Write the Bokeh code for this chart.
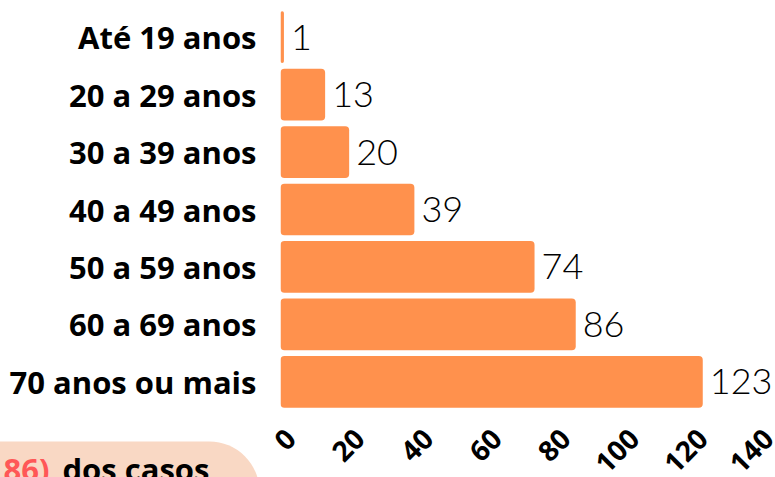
from bokeh.plotting import figure
from bokeh.models import Range1d, FactorRange, FixedTicker, Label, LinearAxis
from bokeh.core.properties import value
from bokeh.embed import file_html
from bokeh.resources import INLINE
import math

categories = ["Até 19 anos", "20 a 29 anos", "30 a 39 anos", "40 a 49 anos",
              "50 a 59 anos", "60 a 69 anos", "70 anos ou mais"]
values = [1, 13, 20, 39, 74, 86, 123]
x_ticks = [0, 20, 40, 60, 80, 100, 120, 140]
note_number = "86)"
note_text = "dos casos"

BAR = "#FF914D"
W = 775
LEFT, RIGHT, TOP = 280, 0, 8
FRAME_H = 402                         # bar area height, as in the reference
BOTTOM = 260                          # room for the axis and the note panels (the note is cut by the window like the reference)
H = TOP + FRAME_H + BOTTOM
PX = 3.433                            # pixels per unit
X_MAX = (W - LEFT - RIGHT) / PX
PY = FRAME_H / len(categories)        # pixels per category band
LABEL_SHIFT = 10 / PX                 # tick labels sit ~10px right of their ticks
FRAME_BOTTOM = TOP + FRAME_H

p = figure(width=W, height=H, output_backend="svg", toolbar_location=None,
           y_range=FactorRange(factors=categories[::-1]),
           x_range=Range1d(0, X_MAX), x_axis_location=None,
           min_border_left=LEFT, min_border_right=RIGHT, min_border_top=TOP,
           min_border_bottom=BOTTOM)
p.outline_line_color = None
p.background_fill_color = "white"
p.border_fill_color = "white"
p.grid.grid_line_color = None

p.hbar(y=categories, right=values, left=0, height=0.9, color=BAR,
       line_color=None, border_radius=4)

p.text(x=values, y=categories, text=[str(v) for v in values],
       x_offset=7, text_baseline="middle", text_align="left",
       text_font=value("Lato Light"), text_font_size="36px", text_color="black")

p.extra_x_ranges = {"labels": Range1d(-LABEL_SHIFT, X_MAX - LABEL_SHIFT)}
xa = LinearAxis(x_range_name="labels")
xa.ticker = FixedTicker(ticks=x_ticks)
xa.axis_line_color = None
xa.major_tick_line_color = None
xa.minor_tick_line_color = None
xa.major_label_orientation = math.pi / 4
xa.major_label_text_font = "Open Sans"
xa.major_label_text_font_style = "bold"
xa.major_label_text_font_size = "28px"
xa.major_label_text_color = "black"
xa.major_label_standoff = 17
p.add_layout(xa, "below")

ya = p.yaxis[0]
ya.axis_line_color = None
ya.major_tick_line_color = None
ya.minor_tick_line_color = None
ya.major_label_text_font = "Open Sans"
ya.major_label_text_font_style = "bold"
ya.major_label_text_font_size = "31px"
ya.major_label_text_color = "black"
ya.major_label_standoff = 18

# note box at the bottom-left (page pixels converted to data units)
box_left_px, box_top_px = -28, 441
num_right_px = 49
note_bg = Label(x=(box_left_px - LEFT) / PX, y=-(box_top_px - FRAME_BOTTOM) / PY,
                x_units="data", y_units="data",
                text=note_text, text_baseline="top", text_align="left",
                text_font="Open Sans", text_font_style="bold",
                text_font_size="31px", text_color="black",
                background_fill_color="#F9D8C4",
                padding=dict(left=90, right=50, top=6, bottom=40),
                border_radius=dict(top_left=0, top_right=50, bottom_right=0, bottom_left=0))
p.add_layout(note_bg, "below")
note_num = Label(x=(num_right_px - LEFT) / PX, y=-(box_top_px + 6 - FRAME_BOTTOM) / PY,
                 x_units="data", y_units="data",
                 text=note_number, text_baseline="top", text_align="right",
                 text_font="Open Sans", text_font_style="bold",
                 text_font_size="31px", text_color="#FF5757")
p.add_layout(note_num, "below")

open("out.html", "w").write(file_html(p, INLINE))
